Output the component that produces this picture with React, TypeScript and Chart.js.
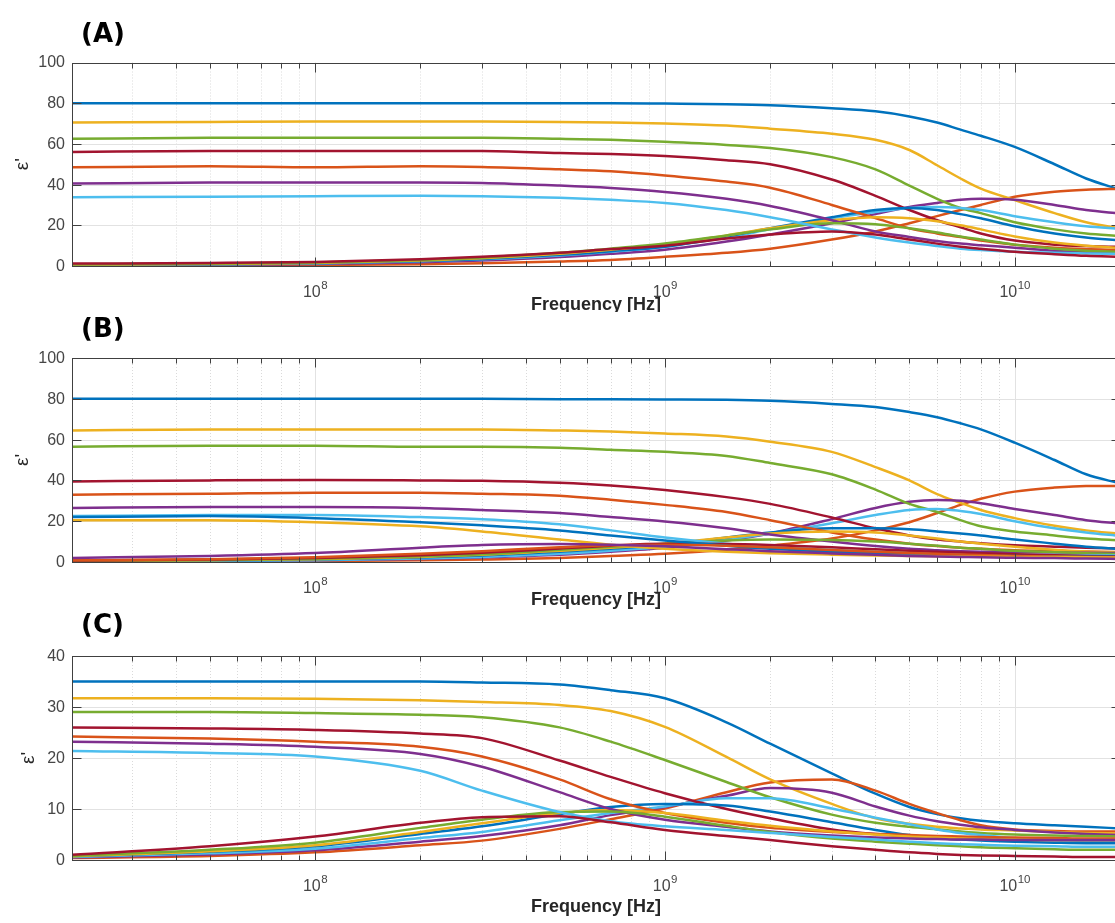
import React, { useEffect, useRef } from 'react';
import { Chart, registerables } from 'chart.js';

Chart.register(...registerables);

// Sampled frequencies (Hz) shared by every curve
const FREQ_HZ = [2e7, 5e7, 1e8, 2e8, 3e8, 5e8, 7e8, 1e9, 1.5e9, 2e9, 3e9, 4e9, 5e9, 6e9, 7e9, 8e9, 1e10, 1.3e10, 1.6e10, 2e10];

// Panel A: real part (eps') and loss (eps'') of each sample
const A_REAL = [
  [80, 80, 80, 80, 80, 80, 80, 79.8, 79.5, 79, 77.5, 76, 73.5, 70.5, 67, 64, 58.5, 50, 43, 37.5],
  [70.5, 70.8, 71, 71, 71, 70.8, 70.5, 70, 69, 67.5, 65, 62, 57, 49.5, 43, 38, 32.4, 26, 21.5, 18.5],
  [62.5, 63, 63, 63, 63, 62.5, 62, 61, 59.5, 58, 53.5, 47.5, 39.5, 33, 28.5, 26, 21.5, 18, 16, 14.8],
  [56, 56.5, 56.5, 56.5, 56.5, 55.5, 55, 54, 52, 50, 42.5, 34.5, 27.5, 22.5, 19, 16, 12.5, 10.5, 9.8, 9.4],
  [48.5, 49, 48.5, 49, 48.7, 47.5, 46.5, 44.5, 41.5, 38.5, 30, 23.5, 18.5, 16, 14.2, 12.5, 10.5, 9, 8.3, 7.9],
  [40.5, 41, 41, 41, 40.8, 39.5, 38.3, 36.4, 33, 29.5, 22.5, 17, 14.3, 12.3, 11, 10.2, 9, 7.5, 6.7, 6.1],
  [33.8, 34, 34.3, 34.5, 34.3, 33.5, 32.5, 31, 27.5, 24, 18, 14, 11.5, 9.8, 8.5, 7.8, 7, 6.5, 6.2, 5.9],
];
const A_LOSS = [
  [0.2, 0.3, 0.5, 0.9, 1.3, 2.2, 3, 4.5, 6.5, 8.5, 13, 17, 21, 24.5, 27.5, 30, 34, 36.5, 37.5, 38],
  [0.4, 0.6, 1, 1.8, 2.7, 4.4, 6, 8, 12, 15.5, 21, 25.5, 29, 31, 32.5, 33, 32.5, 30, 27.5, 25.8],
  [0.6, 0.8, 1.2, 2.3, 3.3, 5.2, 7, 9.5, 14, 18, 23.5, 26.5, 28.5, 29, 28.5, 27.5, 24.5, 21.5, 19.5, 18.3],
  [0.6, 0.9, 1.3, 2.5, 3.5, 5.5, 7.3, 9.5, 14.5, 18.5, 24, 27.5, 28.5, 27.5, 25.5, 23.5, 19.5, 16, 14, 12.5],
  [0.7, 1, 1.5, 2.7, 3.8, 6, 8, 10.5, 15, 18.5, 22.5, 24, 23.5, 22, 20, 18, 14.5, 11.5, 10, 8.9],
  [0.9, 1.2, 1.7, 3, 4.2, 6.5, 8.5, 11, 15, 18, 21, 20.5, 18.5, 16.5, 14.5, 13, 10.5, 8.5, 7.5, 6.9],
  [1.2, 1.5, 2, 3.3, 4.5, 6.5, 8.3, 10, 13.5, 15.5, 17, 15.5, 13, 11, 9.5, 8.5, 7, 5.8, 5, 4.6],
];

// Panel B
const B_REAL = [
  [80, 80, 80, 80, 80, 79.8, 79.8, 79.7, 79.5, 79, 77.5, 76, 73.5, 71, 68, 65, 58.5, 50, 43, 38.5],
  [64.5, 65, 65, 65, 65, 64.5, 64, 63, 61.5, 59, 54, 46.5, 40, 33.3, 29, 25.5, 21.5, 17.8, 15.5, 13.8],
  [56.5, 57, 57, 56.5, 56.5, 56, 55, 54, 52, 48.5, 43, 35.5, 28.5, 24.5, 20.5, 17.5, 15, 13, 11.5, 10.6],
  [39.5, 40, 40.2, 40, 39.8, 38.8, 37.5, 35.3, 31.8, 28.5, 21.8, 16.5, 13, 11, 10, 9.2, 8.2, 7.5, 7, 6.6],
  [33, 33.5, 34, 34, 33.5, 32.5, 30.5, 28, 24.5, 20.5, 14.5, 11, 9, 7.8, 7, 6.5, 5.8, 5.4, 5.1, 4.9],
  [26.5, 27, 27, 26.5, 25.5, 24, 22, 19.8, 16.5, 13.5, 10, 7.8, 6.5, 5.8, 5.3, 5, 4.8, 4.6, 4.5, 4.4],
  [22.5, 23, 23, 22, 21, 18.5, 15.5, 12, 9, 7.5, 6, 5, 4.5, 4.2, 4, 3.8, 3.6, 3.4, 3.3, 3.2],
  [22, 22.5, 21.5, 19.5, 18, 15.5, 13, 10.5, 8, 6.5, 5, 4.3, 3.8, 3.5, 3.3, 3.1, 2.9, 2.7, 2.6, 2.5],
  [20.5, 20.5, 19.5, 17.5, 15, 11, 8.5, 6.5, 5, 4.3, 3.6, 3.2, 3, 2.8, 2.7, 2.6, 2.5, 2.4, 2.3, 2.2],
];
const B_LOSS = [
  [0.2, 0.3, 0.5, 0.8, 1.2, 2, 3, 4, 6, 8, 11.5, 15.5, 19.5, 24, 28, 31, 34.5, 36.5, 37.3, 37.3],
  [0.3, 0.5, 0.8, 1.5, 2.2, 3.5, 5, 7, 10.5, 14, 21, 26.5, 29.5, 30.4, 30, 28.8, 26, 23, 20.5, 18.8],
  [0.4, 0.6, 0.9, 1.7, 2.5, 4, 5.5, 7.5, 11, 14, 19, 23, 25.5, 26, 25, 23.5, 20, 16.5, 14.5, 12.8],
  [0.5, 0.8, 1.2, 2.2, 3.2, 5, 6.5, 8.5, 12, 14.5, 16.5, 16.5, 16, 15, 14, 13, 11, 9, 7.5, 6.4],
  [0.5, 0.9, 1.4, 2.5, 3.5, 5.5, 7, 9, 12, 14, 15, 14.5, 13, 11.5, 10, 9, 7.5, 6, 5.2, 4.7],
  [0.6, 1, 1.6, 2.8, 3.8, 6, 7.5, 9, 10.5, 11, 10.8, 10, 9, 8, 7, 6.5, 5.5, 4.8, 4.3, 3.9],
  [0.7, 1.2, 1.9, 3.3, 4.5, 6.6, 8, 8.9, 8.8, 8.3, 7.2, 6.2, 5.5, 5, 4.6, 4.3, 3.8, 3.3, 3, 2.7],
  [0.8, 1.4, 2.3, 4, 5.3, 7.2, 8.2, 8.5, 8, 7.2, 5.9, 5, 4.4, 4, 3.7, 3.4, 3, 2.7, 2.5, 2.3],
  [2, 3, 4.4, 7, 8.3, 8.8, 8.5, 7.7, 6.3, 5.3, 4.2, 3.5, 3, 2.7, 2.5, 2.3, 2.1, 1.9, 1.7, 1.5],
];

// Panel C
const C_REAL = [
  [35, 35, 35, 35, 34.8, 34.4, 33.3, 31.7, 27, 22.8, 17, 13, 10.4, 9, 8.2, 7.7, 7.2, 6.8, 6.5, 6.2],
  [31.7, 31.7, 31.6, 31.3, 31, 30.4, 29.2, 26.1, 20.2, 15.8, 11, 8.2, 7.1, 6.5, 6.2, 6, 5.8, 5.5, 5.3, 5.2],
  [29, 29, 28.8, 28.5, 28, 26, 23.2, 19.6, 15.3, 12.3, 8.9, 7.3, 6.5, 6, 5.6, 5.3, 5, 4.8, 4.7, 4.6],
  [26, 25.8, 25.5, 24.8, 23.9, 19.5, 16.3, 13.1, 10, 8.2, 6, 5.1, 4.7, 4.4, 4.2, 4.1, 4, 3.9, 3.9, 3.9],
  [24.2, 23.8, 23.2, 22.2, 20.3, 15.8, 11.9, 9.2, 7.3, 6.3, 5.5, 5.1, 4.9, 4.7, 4.6, 4.5, 4.4, 4.3, 4.2, 4.2],
  [23.2, 22.8, 22.2, 20.8, 18.3, 13.3, 10, 7.9, 6.5, 5.6, 4.8, 4.4, 4.2, 4.1, 4, 4, 3.9, 3.9, 3.9, 3.9],
  [21.4, 21, 20.3, 17.5, 13.6, 9.4, 7.6, 6.6, 5.9, 5.3, 4.5, 4, 3.6, 3.3, 3.1, 3, 2.8, 2.7, 2.6, 2.6],
];
const C_LOSS = [
  [0.4, 0.8, 1.5, 2.9, 3.8, 6.1, 8, 10.1, 13.3, 15.2, 15.8, 13.6, 11, 9.2, 7.8, 6.8, 6, 5.7, 5.6, 5.6],
  [0.5, 1.1, 1.9, 3.6, 4.7, 6.8, 8.8, 10.4, 12.6, 14.1, 13.2, 10.5, 8.7, 7.6, 6.9, 6.4, 5.9, 5.4, 5.1, 4.9],
  [0.6, 1.3, 2.2, 4.3, 5.5, 7.8, 9.2, 10.5, 12.1, 12.1, 10.1, 8.3, 7, 6, 5.3, 4.9, 4.3, 3.9, 3.7, 3.5],
  [0.7, 1.6, 2.7, 5.1, 6.6, 9, 10.4, 11, 10.7, 9.5, 7.4, 5.9, 4.9, 4.3, 4, 3.8, 3.6, 3.4, 3.3, 3.3],
  [0.7, 1.7, 2.9, 5.5, 7.2, 9.2, 9.8, 9.2, 7.7, 6.7, 5.6, 5, 4.6, 4.4, 4.2, 4.1, 4, 3.9, 3.9, 3.9],
  [0.8, 2, 3.4, 6.3, 7.9, 9.4, 9.5, 8.5, 6.7, 5.5, 4.2, 3.6, 3.2, 2.9, 2.7, 2.5, 2.3, 2.1, 2, 2],
  [1, 2.7, 4.6, 7.3, 8.4, 8.6, 7.4, 5.9, 4.7, 3.9, 2.7, 2, 1.5, 1.2, 1, 0.9, 0.8, 0.7, 0.6, 0.6],
];

// Axis ticks
const Y_TICKS_A = [0, 20, 40, 60, 80, 100];
const Y_TICKS_B = [0, 20, 40, 60, 80, 100];
const Y_TICKS_C = [0, 10, 20, 30, 40];
const X_DECADES = [8, 9, 10];
const X_MIN = 2.02e7;
const X_MAX = 2e10;

const LINE_COLORS = ['#0072BD', '#D95319', '#EDB120', '#7E2F8E', '#77AC30', '#4DBEEE', '#A2142F'];

const SANS = '"Liberation Sans", Arial, Helvetica, sans-serif';
const CANVAS_W = 1130;
const PLOT_LEFT = 72;
const PLOT_RIGHT = 1120;
const AXIS_COLOR = '#404040';
const TEXT_COLOR = '#464646';

type Panel = {
  tag: string;
  real: number[][];
  loss: number[][];
  yMax: number;
  yTicks: number[];
  top: number;
  height: number;
  plotTop: number;
  plotBottom: number;
  tagY: number;
  tickLabelY: number;
  titleY: number;
  yTitleX: number;
};

const PANELS: Panel[] = [
  { tag: '(A)', real: A_REAL, loss: A_LOSS, yMax: 100, yTicks: Y_TICKS_A, top: 0, height: 312, plotTop: 62.5, plotBottom: 266, tagY: 35, tickLabelY: 297, titleY: 305, yTitleX: 23 },
  { tag: '(B)', real: B_REAL, loss: B_LOSS, yMax: 100, yTicks: Y_TICKS_B, top: 312, height: 298, plotTop: 358, plotBottom: 562, tagY: 330, tickLabelY: 593, titleY: 600, yTitleX: 23 },
  { tag: '(C)', real: C_REAL, loss: C_LOSS, yMax: 40, yTicks: Y_TICKS_C, top: 610, height: 313, plotTop: 656, plotBottom: 860, tagY: 626, tickLabelY: 891, titleY: 907, yTitleX: 29 },
];

function minorFrequencies(): number[] {
  const out: number[] = [];
  for (let e = 7; e <= 10; e++) {
    for (let m = 2; m <= 9; m++) {
      const v = m * Math.pow(10, e);
      if (v > X_MIN && v < X_MAX) out.push(v);
    }
  }
  return out;
}

const snap = (v: number) => Math.round(v) + 0.5;

function matlabAxes(panel: Panel) {
  const off = panel.top;
  return {
    id: 'matlabAxes',
    beforeDatasetsDraw(chart: any) {
      const { ctx, chartArea: a } = chart;
      const xs = chart.scales.x;
      const ys = chart.scales.y;
      ctx.save();
      ctx.lineWidth = 1;
      // dotted minor grid
      ctx.strokeStyle = '#dadada';
      ctx.setLineDash([1, 2]);
      for (const v of minorFrequencies()) {
        const px = snap(xs.getPixelForValue(v));
        ctx.beginPath();
        ctx.moveTo(px, a.top);
        ctx.lineTo(px, a.bottom);
        ctx.stroke();
      }
      ctx.setLineDash([]);
      // solid major grid
      ctx.strokeStyle = '#e2e2e2';
      for (const e of X_DECADES) {
        const px = snap(xs.getPixelForValue(Math.pow(10, e)));
        ctx.beginPath();
        ctx.moveTo(px, a.top);
        ctx.lineTo(px, a.bottom);
        ctx.stroke();
      }
      for (const t of panel.yTicks) {
        const py = snap(ys.getPixelForValue(t));
        ctx.beginPath();
        ctx.moveTo(a.left, py);
        ctx.lineTo(a.right, py);
        ctx.stroke();
      }
      ctx.restore();
    },
    afterDatasetsDraw(chart: any) {
      const { ctx, chartArea: a } = chart;
      const xs = chart.scales.x;
      const ys = chart.scales.y;
      const L = snap(a.left);
      const R = snap(a.right);
      const T = snap(a.top);
      const B = snap(a.bottom);
      ctx.save();
      ctx.strokeStyle = AXIS_COLOR;
      ctx.lineWidth = 1;
      ctx.strokeRect(L, T, R - L, B - T);

      // tick marks pointing inward
      ctx.beginPath();
      for (const v of minorFrequencies()) {
        const px = snap(xs.getPixelForValue(v));
        ctx.moveTo(px, B);
        ctx.lineTo(px, B - 5);
        ctx.moveTo(px, T);
        ctx.lineTo(px, T + 5);
      }
      for (const e of X_DECADES) {
        const px = snap(xs.getPixelForValue(Math.pow(10, e)));
        ctx.moveTo(px, B);
        ctx.lineTo(px, B - 9);
        ctx.moveTo(px, T);
        ctx.lineTo(px, T + 9);
      }
      for (const t of panel.yTicks) {
        const py = snap(ys.getPixelForValue(t));
        ctx.moveTo(L, py);
        ctx.lineTo(L + 9, py);
        ctx.moveTo(R, py);
        ctx.lineTo(R - 9, py);
      }
      ctx.stroke();

      // y tick labels
      ctx.fillStyle = TEXT_COLOR;
      ctx.font = `16px ${SANS}`;
      ctx.textAlign = 'right';
      ctx.textBaseline = 'middle';
      for (const t of panel.yTicks) {
        ctx.fillText(String(t), a.left - 7, ys.getPixelForValue(t) + 0.5);
      }

      // x tick labels: 10 with superscript exponent
      ctx.textAlign = 'left';
      ctx.textBaseline = 'alphabetic';
      const baseY = panel.tickLabelY - off;
      for (const e of X_DECADES) {
        const px = xs.getPixelForValue(Math.pow(10, e));
        ctx.font = `16px ${SANS}`;
        const w1 = ctx.measureText('10').width;
        ctx.font = `11.5px ${SANS}`;
        const w2 = ctx.measureText(String(e)).width;
        const start = px - (w1 + w2) / 2;
        ctx.font = `16px ${SANS}`;
        ctx.fillText('10', start, baseY);
        ctx.font = `11.5px ${SANS}`;
        ctx.fillText(String(e), start + w1 + 0.5, baseY - 8);
      }

      // x axis title
      ctx.fillStyle = '#262626';
      ctx.font = `bold 18px ${SANS}`;
      ctx.textAlign = 'center';
      ctx.textBaseline = 'middle';
      ctx.fillText('Frequency [Hz]', (a.left + a.right) / 2, panel.titleY - off);

      // y axis title
      ctx.save();
      ctx.translate(panel.yTitleX, (a.top + a.bottom) / 2);
      ctx.rotate(-Math.PI / 2);
      ctx.font = `19px ${SANS}`;
      ctx.fillStyle = '#262626';
      ctx.textAlign = 'center';
      ctx.textBaseline = 'middle';
      ctx.fillText("\u03B5'", 0, 0);
      ctx.restore();

      // panel tag
      ctx.fillStyle = '#000';
      ctx.font = 'bold 26px "DejaVu Sans", sans-serif';
      ctx.textAlign = 'left';
      ctx.textBaseline = 'middle';
      ctx.fillText(panel.tag, 81, panel.tagY - off);
      ctx.restore();
    },
  };
}

function PanelChart({ panel }: { panel: Panel }) {
  const ref = useRef<HTMLCanvasElement | null>(null);

  useEffect(() => {
    if (!ref.current) return;
    const datasets: any[] = [];
    panel.real.forEach((re, k) => {
      [re, panel.loss[k]].forEach((vals, j) => {
        const idx = 2 * k + j;
        datasets.push({
          data: FREQ_HZ.map((f, i) => ({ x: f, y: vals[i] })),
          borderColor: LINE_COLORS[idx % LINE_COLORS.length],
          backgroundColor: LINE_COLORS[idx % LINE_COLORS.length],
          borderWidth: 2.5,
          pointRadius: 0,
          fill: false,
          cubicInterpolationMode: 'monotone',
          order: -idx,
        });
      });
    });

    const chart = new Chart(ref.current, {
      type: 'line',
      data: { datasets },
      options: {
        animation: false,
        responsive: false,
        events: [],
        layout: {
          padding: {
            left: PLOT_LEFT,
            right: CANVAS_W - PLOT_RIGHT,
            top: panel.plotTop - panel.top,
            bottom: panel.top + panel.height - panel.plotBottom,
          },
        },
        scales: {
          x: { type: 'logarithmic', min: X_MIN, max: X_MAX, display: false },
          y: { type: 'linear', min: 0, max: panel.yMax, display: false },
        },
        plugins: {
          legend: { display: false },
          tooltip: { enabled: false },
        },
      },
      plugins: [matlabAxes(panel)],
    } as any);
    return () => chart.destroy();
  }, [panel]);

  return (
    <canvas
      ref={ref}
      width={CANVAS_W}
      height={panel.height}
      style={{ position: 'absolute', left: 0, top: panel.top, width: CANVAS_W, height: panel.height }}
    />
  );
}

export default function App() {
  return (
    <div
      style={{
        position: 'absolute',
        left: 0,
        top: 0,
        width: 1115,
        height: 923,
        overflow: 'hidden',
        background: '#ffffff',
      }}
    >
      {PANELS.map((p) => (
        <PanelChart key={p.tag} panel={p} />
      ))}
    </div>
  );
}
